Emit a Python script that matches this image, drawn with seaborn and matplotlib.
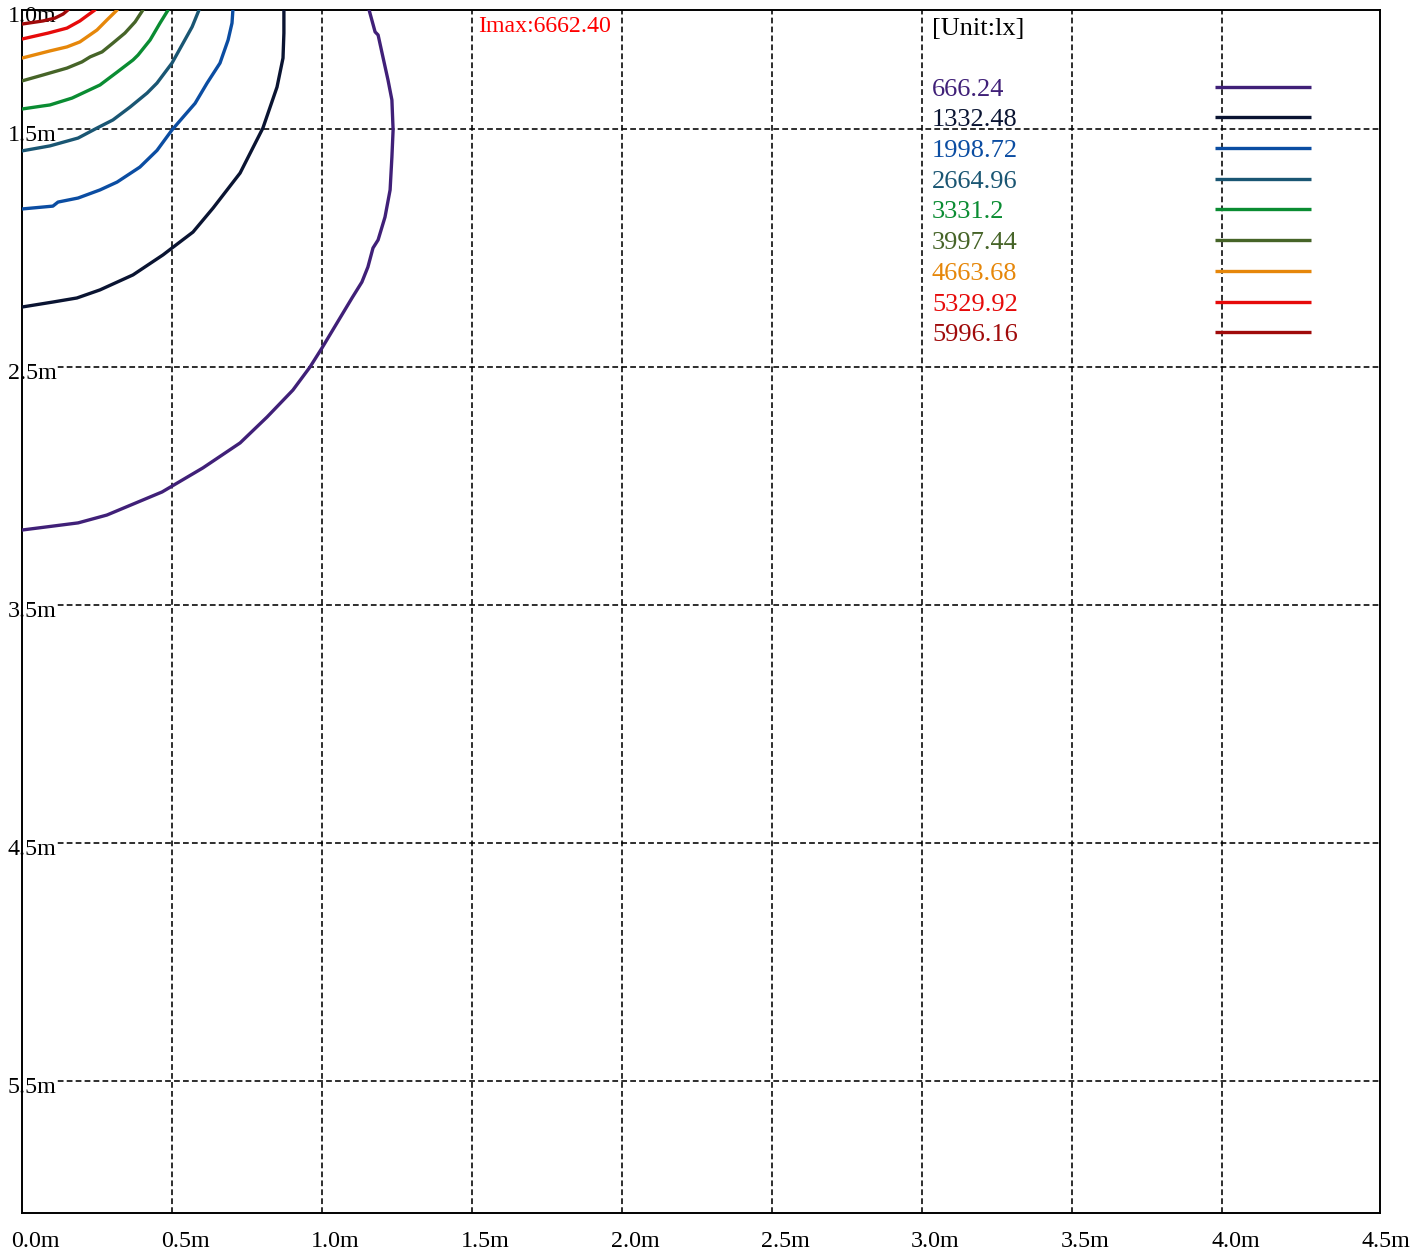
import matplotlib
matplotlib.use("Agg")
import matplotlib.pyplot as plt
import matplotlib.transforms as mtransforms
import numpy as np
import pandas as pd
import seaborn as sns

# Isolux levels (lx) and their colours
i_max = 6662.40
levels = [666.24, 1332.48, 1998.72, 2664.96, 3331.2, 3997.44, 4663.68, 5329.92, 5996.16]
level_colors = ["#402078", "#0A1432", "#0B4DA2", "#1A5673", "#0A8C32",
                "#466428", "#E6870A", "#E60A0A", "#A00A0A"]

# Contour traces (x, y in metres), one per level
c666_x = [0, 0.187, 0.283, 0.467, 0.603, 0.727, 0.817, 0.903, 0.96, 1.0, 1.05, 1.1,
          1.133, 1.153, 1.17, 1.187, 1.21, 1.227, 1.233, 1.237, 1.233, 1.22, 1.203,
          1.187, 1.177, 1.157]
c666_y = [3.185, 3.155, 3.122, 3.025, 2.924, 2.819, 2.710, 2.597, 2.5, 2.420, 2.315,
          2.210, 2.143, 2.080, 2.0, 1.966, 1.870, 1.756, 1.618, 1.504, 1.378, 1.294,
          1.197, 1.105, 1.092, 1.0]
c1332_x = [0, 0.103, 0.183, 0.26, 0.37, 0.47, 0.5, 0.57, 0.637, 0.727, 0.803, 0.85,
           0.87, 0.873, 0.873]
c1332_y = [2.248, 2.227, 2.210, 2.176, 2.113, 2.029, 2.0, 1.933, 1.832, 1.685, 1.496,
           1.324, 1.202, 1.097, 1.0]
c1998_x = [0, 0.103, 0.12, 0.187, 0.26, 0.317, 0.393, 0.45, 0.5, 0.537, 0.577, 0.617,
           0.66, 0.687, 0.7, 0.703]
c1998_y = [1.836, 1.824, 1.807, 1.790, 1.756, 1.723, 1.660, 1.590, 1.504, 1.450,
           1.392, 1.307, 1.223, 1.126, 1.055, 1.0]
c2664_x = [0, 0.093, 0.187, 0.25, 0.303, 0.36, 0.417, 0.45, 0.5, 0.537, 0.567, 0.59]
c2664_y = [1.592, 1.571, 1.538, 1.496, 1.462, 1.408, 1.349, 1.307, 1.223, 1.139,
           1.071, 1.0]
c3331_x = [0, 0.07, 0.093, 0.167, 0.26, 0.317, 0.37, 0.387, 0.427, 0.46, 0.487]
c3331_y = [1.416, 1.403, 1.399, 1.370, 1.315, 1.261, 1.210, 1.189, 1.126, 1.055, 1.0]
c3997_x = [0, 0.07, 0.15, 0.2, 0.227, 0.267, 0.303, 0.343, 0.377, 0.403]
c3997_y = [1.298, 1.273, 1.244, 1.218, 1.197, 1.176, 1.139, 1.097, 1.050, 1.0]
c4663_x = [0, 0.093, 0.15, 0.193, 0.25, 0.283, 0.317]
c4663_y = [1.202, 1.172, 1.155, 1.134, 1.084, 1.042, 1.0]
c5329_x = [0, 0.087, 0.15, 0.193, 0.22, 0.243]
c5329_y = [1.122, 1.097, 1.076, 1.046, 1.021, 1.0]
c5996_x = [0, 0.07, 0.11, 0.137, 0.153]
c5996_y = [1.059, 1.046, 1.034, 1.017, 1.0]

# Axis ticks
x_ticks = [0.0, 0.5, 1.0, 1.5, 2.0, 2.5, 3.0, 3.5, 4.0, 4.5]
x_tick_labels = ["0.0m", "0.5m", "1.0m", "1.5m", "2.0m", "2.5m", "3.0m", "3.5m", "4.0m", "4.5m"]
y_ticks = [1.0, 1.5, 2.5, 3.5, 4.5, 5.5]
y_tick_labels = ["1.0m", "1.5m", "2.5m", "3.5m", "4.5m", "5.5m"]
x_grid = [0.5, 1.0, 1.5, 2.0, 2.5, 3.0, 3.5, 4.0]
y_grid = [1.5, 2.5, 3.5, 4.5, 5.5]

traces = [(c666_x, c666_y), (c1332_x, c1332_y), (c1998_x, c1998_y),
          (c2664_x, c2664_y), (c3331_x, c3331_y), (c3997_x, c3997_y),
          (c4663_x, c4663_y), (c5329_x, c5329_y), (c5996_x, c5996_y)]

labels = [f"{v:g}" for v in levels]
frames = []
for lab, (xs, ys) in zip(labels, traces):
    frames.append(pd.DataFrame({"x": xs, "y": ys, "level": lab,
                                "order": np.arange(len(xs))}))
df = pd.concat(frames, ignore_index=True)
palette = dict(zip(labels, level_colors))

sns.set_theme(style="white")
plt.rcParams["font.family"] = ["Liberation Serif", "DejaVu Serif"]

W, H = 1427, 1254
fig = plt.figure(figsize=(W / 100, H / 100), dpi=100)
ax = fig.add_axes([22 / W, 41 / H, 1358 / W, 1203 / H])

sns.lineplot(data=df, x="x", y="y", hue="level", hue_order=labels, palette=palette,
             sort=False, estimator=None, units="level", legend=False,
             linewidth=2.4, ax=ax, zorder=3)

ax.set_xlim(0, 1358 / 300)
ax.set_ylim(1.0 + 1203 / 238, 1.0)
ax.set_xlabel("")
ax.set_ylabel("")

# Dashed grid
ax.set_xticks(x_grid)
ax.set_yticks(y_grid)
ax.tick_params(length=0, labelbottom=False, labelleft=False)
ax.set_axisbelow(True)
ax.grid(True, color="black", linewidth=1.15, linestyle=(0, (3.6, 2.0)))

for s in ax.spines.values():
    s.set_visible(True)
    s.set_color("black")
    s.set_linewidth(1.4)

# Tick labels
xt = mtransforms.blended_transform_factory(ax.transData, ax.transAxes)
xt = mtransforms.offset_copy(xt, fig=fig, x=-11, y=-34, units="dots")
for v, lab in zip(x_ticks, x_tick_labels):
    ax.text(v, 0, lab, transform=xt, ha="left", va="baseline", fontsize=17.3,
            color="black", clip_on=False)

yt = mtransforms.blended_transform_factory(ax.transAxes, ax.transData)
yt = mtransforms.offset_copy(yt, fig=fig, x=-14, y=-12, units="dots")
for v, lab in zip(y_ticks, y_tick_labels):
    ax.text(0, v, lab, transform=yt, ha="left", va="baseline", fontsize=17.3,
            color="black", clip_on=False, zorder=1,
            bbox=dict(facecolor="white", edgecolor="none", pad=0))

# Peak value
ax.text(456 / 1358, 1 - 22 / 1203, f"Imax:{i_max:.2f}", transform=ax.transAxes,
        ha="left", va="baseline", fontsize=17.2, color="#FF0000")

# Level key
ax.text(910 / 1358, 1 - 25 / 1203, "[Unit:lx]", transform=ax.transAxes,
        ha="left", va="baseline", fontsize=19, color="black")
for i, (lab, col) in enumerate(zip(labels, level_colors)):
    yb = 1 - (85.7 + 30.7 * i) / 1203
    ax.text(910 / 1358, yb, lab, transform=ax.transAxes, ha="left",
            va="baseline", fontsize=19, color=col)
    yl = 1 - (76.7 + 30.7 * i) / 1203
    ax.plot([1193 / 1358, 1289 / 1358], [yl, yl], transform=ax.transAxes,
            color=col, linewidth=2.4, solid_capstyle="butt", zorder=3)

fig.savefig("out.png", dpi=100, facecolor="white")
